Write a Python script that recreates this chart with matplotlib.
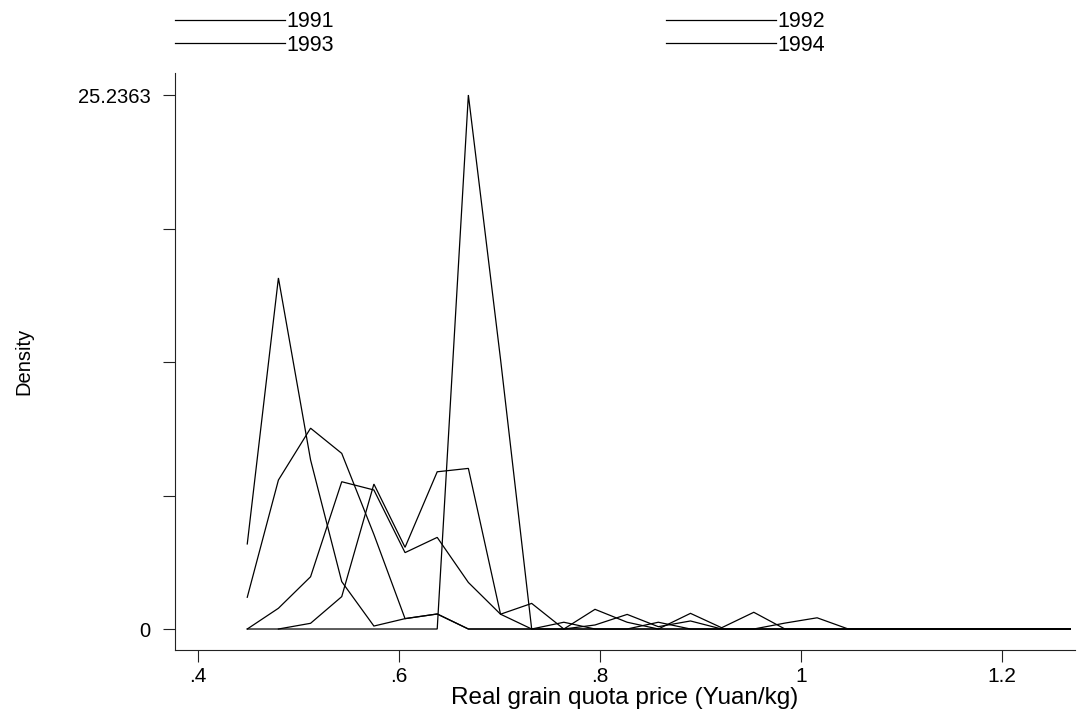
import numpy as np
import matplotlib
matplotlib.use("Agg")
import matplotlib.pyplot as plt

plt.rcParams['font.family'] = ['Liberation Sans', 'DejaVu Sans']

# bin midpoints (Yuan/kg)
price = [0.449, 0.480, 0.512, 0.543, 0.575, 0.606, 0.638, 0.669, 0.701, 0.732,
         0.764, 0.795, 0.827, 0.858, 0.890, 0.921, 0.953, 0.984, 1.016, 1.047,
         1.079, 1.110, 1.142, 1.173, 1.205, 1.236, 1.268]

dens_a = [4.02, 16.59, 7.99, 2.24, 0.14, 0.49, 0.71, 0, 0, 0,
          0, 0, 0, 0, 0, 0, 0, 0, 0, 0, 0, 0, 0, 0, 0, 0, 0]
dens_b = [1.50, 7.04, 9.49, 8.30, 4.47, 0.49, 0.71, 0, 0, 0,
          0, 0, 0, 0, 0, 0, 0, 0, 0, 0, 0, 0, 0, 0, 0, 0, 0]
dens_c = [0, 0.98, 2.47, 6.96, 6.57, 3.61, 4.33, 2.2, 0.70, 1.21,
          0, 0.93, 0.32, 0, 0.74, 0.06, 0.79, 0, 0, 0, 0, 0, 0, 0, 0, 0, 0]
dens_d = [np.nan, 0, 0.27, 1.53, 6.85, 3.86, 7.43, 7.59, 0.70, 0,
          0, 0.19, 0.69, 0.11, 0.38, 0, 0, 0.28, 0.53, 0, 0, 0, 0, 0, 0, 0, 0]
dens_e = [0, 0, 0, 0, 0, 0, 0, 25.2363, 12.75, 0,
          0.32, 0, 0, 0.32, 0, 0, 0, 0, 0, 0, 0, 0, 0, 0, 0, 0, 0]

series = [dens_a, dens_b, dens_c, dens_d, dens_e]
labels = ['1991', '1992', '1993', '1994', None]

ymax_val = 25.2363
xticks = [0.4, 0.6, 0.8, 1.0, 1.2]
xticklabels = ['.4', '.6', '.8', '1', '1.2']

fig = plt.figure(figsize=(10.85, 7.13), dpi=100)
ax = fig.add_axes([175/1085, 63/713, 900/1085, 577/713])

handles = {}
for d, lab in zip(series, labels):
    ln, = ax.plot(price, d, color='black', lw=0.9, solid_joinstyle='miter')
    if lab:
        handles[lab] = ln

ax.set_xlim(0.3771, 1.2726)
ax.set_ylim(-0.992, 26.276)

ax.spines['top'].set_visible(False)
ax.spines['right'].set_visible(False)
for s in ('left', 'bottom'):
    ax.spines[s].set_linewidth(0.8)
    ax.spines[s].set_color('#222222')

yt = [0, ymax_val / 4, ymax_val / 2, 3 * ymax_val / 4, ymax_val]
ax.set_yticks(yt)
ax.set_yticklabels(['0', '', '', '', '25.2363'])
ax.set_xticks(xticks)
ax.set_xticklabels(xticklabels)
ax.tick_params(axis='both', direction='out', length=8.6, width=0.8,
               color='#222222')
ax.tick_params(axis='y', pad=9, labelsize=14.5)
ax.tick_params(axis='x', pad=4, labelsize=15)

ax.set_xlabel('Real grain quota price (Yuan/kg)', fontsize=17.5, va='center')
ax.xaxis.set_label_coords(0.5, (650 - 698) / 577)
ax.set_ylabel('Density', fontsize=14.5, va='center')
ax.yaxis.set_label_coords((24 - 175) / 900, 0.5)

# legend in row order 1991 1992 / 1993 1994 (matplotlib fills column-wise)
order = ['1991', '1993', '1992', '1994']
ax.legend([handles[k] for k in order], order,
          loc='upper left', bbox_to_anchor=(0.0, 1.107), ncol=2, frameon=False,
          fontsize=15.5, handlelength=5.1, handletextpad=0.09,
          columnspacing=15.4, labelspacing=0.12, borderpad=0, borderaxespad=0)

fig.savefig('out.png', dpi=100, facecolor='white')
